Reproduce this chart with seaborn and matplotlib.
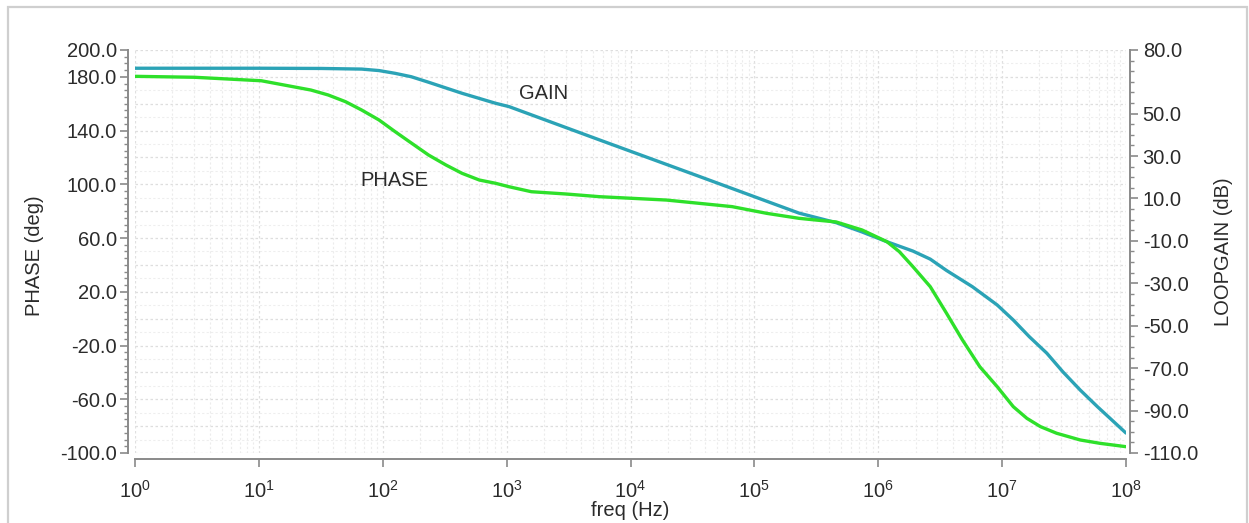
import numpy as np
import pandas as pd
import matplotlib
matplotlib.use("Agg")
import matplotlib.pyplot as plt
import seaborn as sns
from matplotlib.ticker import FixedLocator, MultipleLocator, FormatStrFormatter, LogLocator, NullFormatter
from matplotlib.patches import Rectangle

# Loop-gain magnitude (right axis, dB) versus log10 of frequency
gain_log_f = [0.00, 1.00, 1.50, 1.83, 1.97, 2.10, 2.23, 2.37, 2.51, 2.64, 2.91, 3.02,
              3.75, 4.56, 5.36, 5.66, 5.87, 6.07, 6.28, 6.42, 6.55, 6.76, 6.96,
              7.09, 7.22, 7.36, 7.49, 7.63, 7.77, 8.00]
gain_db = [71.4, 71.4, 71.3, 71.0, 70.3, 69.0, 67.4, 64.8, 62.1, 59.6, 54.9, 53.3,
           37.6, 20.3, 3.1, -1.4, -5.8, -10.4, -14.8, -18.6, -23.9, -31.6, -40.2,
           -47.3, -55.2, -62.9, -71.7, -80.3, -88.2, -100.6]

# Loop phase (left axis, degrees) versus log10 of frequency
phase_log_f = [0.00, 0.48, 1.02, 1.42, 1.56, 1.70, 1.83, 1.97, 2.10, 2.23, 2.37, 2.51,
               2.64, 2.78, 2.91, 3.02, 3.20, 3.48, 3.75, 4.01, 4.29, 4.55, 4.82,
               5.10, 5.36, 5.50, 5.66, 5.87, 6.07, 6.17, 6.28, 6.42, 6.55, 6.68,
               6.82, 6.96, 7.09, 7.20, 7.31, 7.44, 7.63, 7.79, 8.00]
phase_deg = [180.4, 179.7, 177.1, 170.2, 166.5, 161.5, 155.3, 147.9, 139.2, 130.8, 121.8, 114.4,
             108.2, 103.2, 100.8, 98.2, 94.5, 92.8, 90.8, 89.6, 88.3, 85.9, 83.4,
             78.4, 74.7, 73.4, 72.0, 66.0, 57.3, 49.9, 38.7, 23.8, 4.2, -15.9,
             -35.8, -50.6, -65.5, -74.2, -80.4, -85.3, -90.3, -92.8, -95.3]

phase_ticks = [-100, -60, -20, 20, 60, 100, 140, 180, 200]
gain_ticks = [-110, -90, -70, -50, -30, -10, 10, 30, 50, 80]

GAIN_COLOR = "#2ba3b6"
PHASE_COLOR = "#2ee02a"
AXIS_GRAY = "#8a8a8a"
TEXT_COLOR = "#2b2b2b"

sns.set_theme(style="white")
plt.rcParams["font.family"] = ["Liberation Sans", "DejaVu Sans"]
plt.rcParams["mathtext.fontset"] = "custom"
plt.rcParams["mathtext.rm"] = "Liberation Sans"
plt.rcParams["mathtext.it"] = "Liberation Sans:italic"
plt.rcParams["mathtext.bf"] = "Liberation Sans:bold"

W, H = 1249, 523
fig = plt.figure(figsize=(W / 100, H / 100), dpi=100)
fig.patch.set_facecolor("white")

# light outer frame
fig.patches.append(Rectangle((8 / W, -0.02), (1247 - 8) / W, 1.02 - 7 / H,
                             transform=fig.transFigure, fill=False,
                             edgecolor="#cfcfcf", linewidth=1.6))

# phase axes underneath (carries the grid), gain twin on top (carries both curves)
ax = fig.add_axes([135 / W, (H - 453) / H, 991 / W, 403 / H])
ax.set_facecolor("white")
ax2 = ax.twinx()

ax.set_xscale("log")
ax.set_xlim(1, 1e8)
ax.set_ylim(-100, 200)
ax2.set_ylim(-110, 80)

phase_df = pd.DataFrame({"freq": 10 ** np.array(phase_log_f), "phase": phase_deg})
gain_df = pd.DataFrame({"freq": 10 ** np.array(gain_log_f), "gain": gain_db})

sns.lineplot(data=gain_df, x="freq", y="gain", ax=ax2, color=GAIN_COLOR,
             linewidth=2.4, zorder=3)
# phase is drawn in the top layer but mapped through the left (phase) scale
sns.lineplot(data=phase_df, x="freq", y="phase", ax=ax2, color=PHASE_COLOR,
             linewidth=2.4, zorder=4, transform=ax.transData)
ax2.set_ylim(-110, 80)
ax2.set_xlabel("")

# grid
ax.grid(False)
ax2.grid(False)
ax.xaxis.set_major_locator(LogLocator(base=10, numticks=12))
ax.xaxis.set_minor_locator(LogLocator(base=10, subs=np.arange(2, 10), numticks=12))
ax.xaxis.set_minor_formatter(NullFormatter())
ax.grid(True, axis="x", which="major", color="#e0e0e0", linestyle=(0, (2, 2)), linewidth=0.9, zorder=0)
ax.grid(True, axis="x", which="minor", color="#ececec", linestyle=(0, (2, 2)), linewidth=0.8, zorder=0)
for level in range(-100, 201, 10):
    strong = (level % 20 == 0)
    ax.axhline(level, color="#dedede" if strong else "#eeeeee",
               linestyle=(0, (2, 2)), linewidth=0.9 if strong else 0.8, zorder=0)

# left (phase) axis
ax.yaxis.set_major_locator(FixedLocator(phase_ticks))
ax.yaxis.set_minor_locator(MultipleLocator(5))
ax.yaxis.set_major_formatter(FormatStrFormatter("%.1f"))
# right (gain) axis
ax2.yaxis.set_major_locator(FixedLocator(gain_ticks))
ax2.yaxis.set_minor_locator(MultipleLocator(5))
ax2.yaxis.set_major_formatter(FormatStrFormatter("%.1f"))

for s in ["top", "right"]:
    ax.spines[s].set_visible(False)
for s in ["top", "left", "bottom"]:
    ax2.spines[s].set_visible(False)
ax.spines["left"].set_position(("outward", 5))
ax.spines["bottom"].set_position(("outward", 4.5))
ax2.spines["right"].set_position(("outward", 3))
for sp in [ax.spines["left"], ax.spines["bottom"], ax2.spines["right"]]:
    sp.set_color(AXIS_GRAY)
    sp.set_linewidth(1.4)

ax.tick_params(axis="both", which="major", direction="out", length=6, width=1.2,
               color=AXIS_GRAY, labelsize=14.5, labelcolor=TEXT_COLOR)
ax.tick_params(axis="both", which="minor", direction="out", length=3, width=1.0,
               color=AXIS_GRAY)
ax.tick_params(axis="x", which="major", pad=9)
ax.tick_params(axis="y", which="major", pad=2)
ax2.tick_params(axis="y", which="major", direction="out", length=6, width=1.2,
                color=AXIS_GRAY, labelsize=14.5, labelcolor=TEXT_COLOR, pad=3)
ax2.tick_params(axis="y", which="minor", direction="out", length=3, width=1.0,
                color=AXIS_GRAY)
ax.tick_params(left=True, bottom=True)
ax2.tick_params(right=True)

ax.set_xlabel("freq (Hz)", fontsize=14.5, color=TEXT_COLOR)
ax.xaxis.set_label_coords(0.4995, -0.118)
ax.set_ylabel("PHASE (deg)", fontsize=14.5, color=TEXT_COLOR)
ax.yaxis.set_label_coords(-0.092, 0.49)
ax2.set_ylabel("LOOPGAIN (dB)", fontsize=14.5, color=TEXT_COLOR)
ax2.yaxis.set_label_coords(1.089, 0.50)

# curve captions
ax2.text(2.0e3, 59.3, "GAIN", fontsize=14.5, color=TEXT_COLOR, ha="center", va="center")
ax.text(1.23e2, 102.5, "PHASE", fontsize=14.5, color=TEXT_COLOR, ha="center", va="center")

fig.savefig("out.png", dpi=100, facecolor="white")
